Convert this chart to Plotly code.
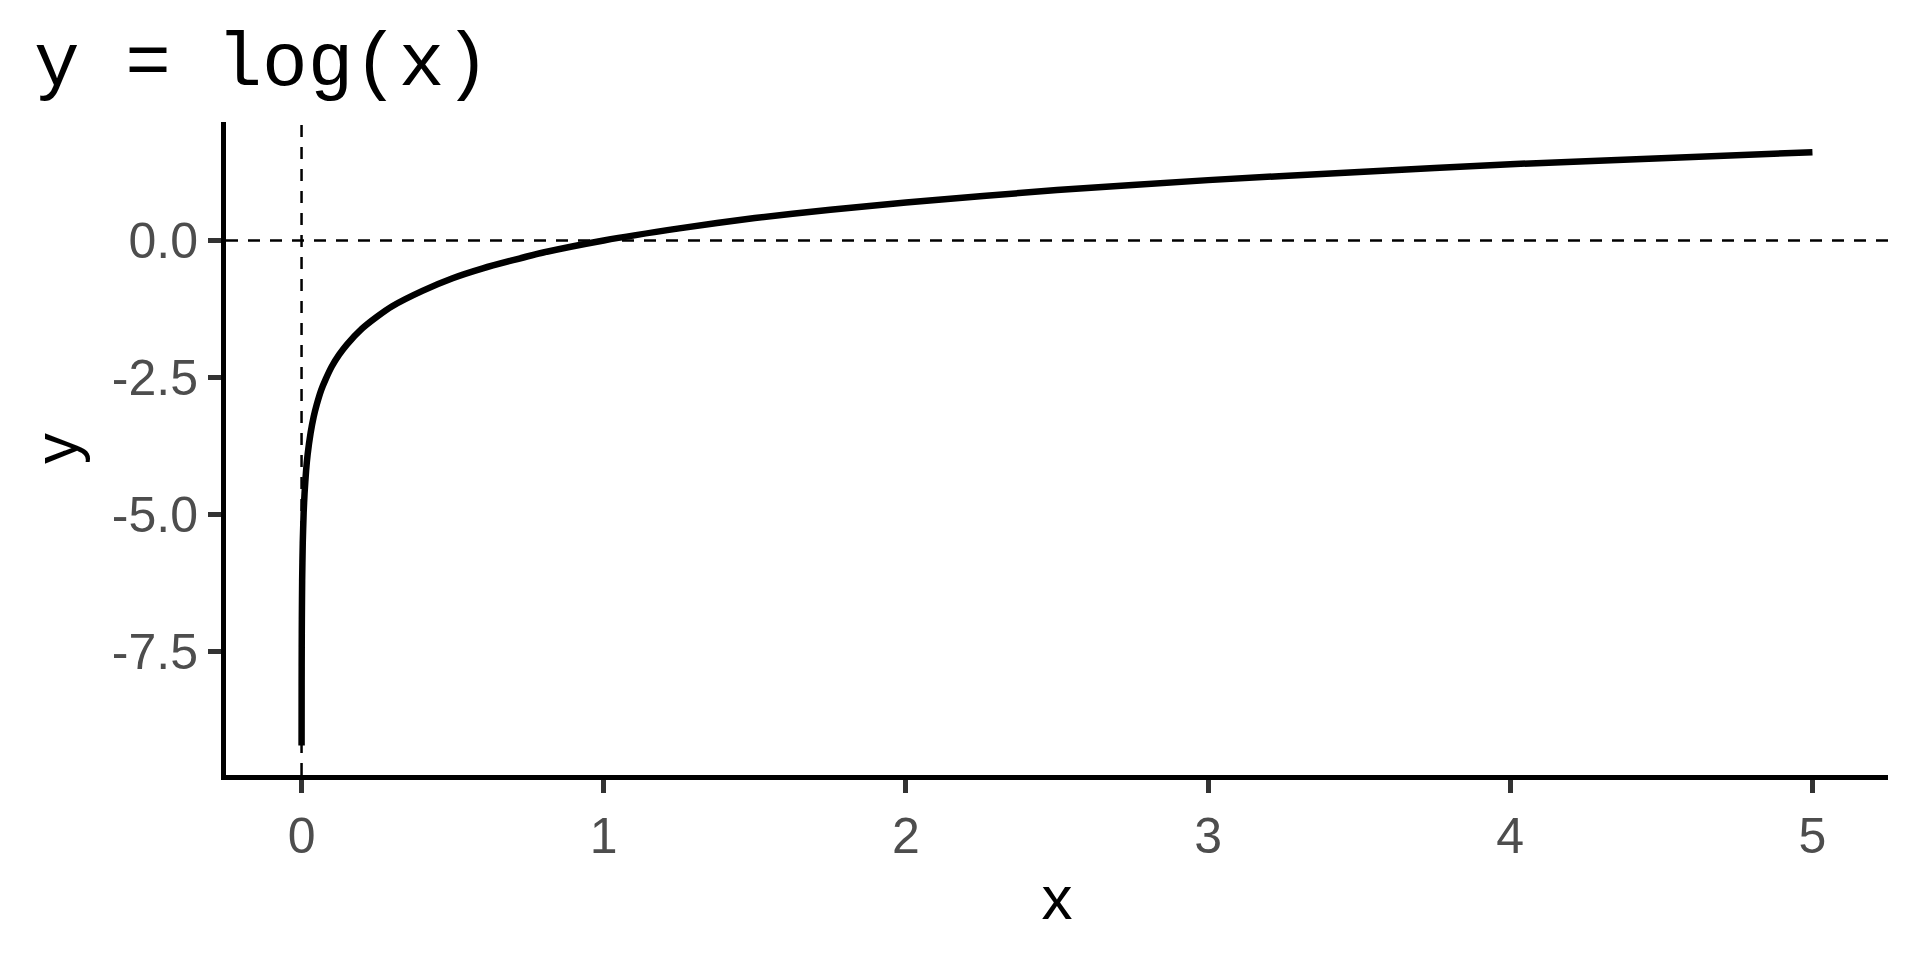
import plotly.graph_objects as go

# values (curve y = log(x))
x_vals = [0.0001, 0.0003, 0.0006, 0.001, 0.002, 0.004, 0.007, 0.01, 0.015, 0.02, 0.03, 0.04,
          0.05, 0.065, 0.08, 0.1, 0.125, 0.15, 0.2, 0.25, 0.3, 0.4, 0.5, 0.6, 0.7, 0.8,
          1.0, 1.25, 1.5, 1.75, 2.0, 2.5, 3.0, 3.5, 4.0, 4.5, 5.0]
y_vals = [-9.21, -8.11, -7.42, -6.91, -6.21, -5.52, -4.96, -4.61, -4.20, -3.91, -3.51, -3.22,
          -3.00, -2.73, -2.53, -2.30, -2.08, -1.90, -1.61, -1.39, -1.20, -0.92, -0.69, -0.51, -0.36, -0.22,
          0.00, 0.22, 0.41, 0.56, 0.69, 0.92, 1.10, 1.25, 1.39, 1.50, 1.61]

x_ticks = [0, 1, 2, 3, 4, 5]
y_ticks = [-7.5, -5.0, -2.5, 0.0]
y_tick_labels = ["-7.5", "-5.0", "-2.5", "0.0"]

title_text = "y = log(x)"
x_title = "x"
y_title = "y"

fig = go.Figure()
fig.add_trace(go.Scatter(x=x_vals, y=y_vals, mode="lines",
                         line=dict(color="black", width=6.5, shape="spline", smoothing=0.6),
                         hoverinfo="skip", showlegend=False))

fig.add_hline(y=0, line=dict(color="black", width=2.5, dash="12px,10px"), layer="below")
fig.add_vline(x=0, line=dict(color="black", width=2.5, dash="12px,10px"), layer="below")

tickfont = dict(family="Liberation Sans, Arial, sans-serif", size=50, color="#4D4D4D")
titlefont = dict(family="Liberation Sans, Arial, sans-serif", size=62, color="black")

fig.update_layout(
    width=1920, height=960,
    paper_bgcolor="white", plot_bgcolor="white",
    margin=dict(l=218, r=40, t=114, b=193),
    title=dict(text=title_text, font=dict(family="Liberation Mono, Courier New, monospace", size=76, color="black"),
               x=26/1920, xref="container", xanchor="left",
               y=1-50/960, yref="container", yanchor="middle"),
    xaxis=dict(range=[-0.25, 5.25], tickvals=x_ticks, ticktext=[str(v) for v in x_ticks],
               showgrid=False, zeroline=False, showline=True, linecolor="black", linewidth=5,
               ticks="outside", ticklen=13, tickwidth=5, tickcolor="#333333",
               tickfont=tickfont, title=dict(text=x_title, font=titlefont, standoff=14)),
    yaxis=dict(range=[-9.75, 2.16], tickvals=y_ticks, ticktext=y_tick_labels,
               showgrid=False, zeroline=False, showline=True, linecolor="black", linewidth=5,
               ticks="outside", ticklen=13, tickwidth=5, tickcolor="#333333",
               tickfont=tickfont, title=dict(text=y_title, font=titlefont, standoff=16)),
)

fig.write_html("out.html")
